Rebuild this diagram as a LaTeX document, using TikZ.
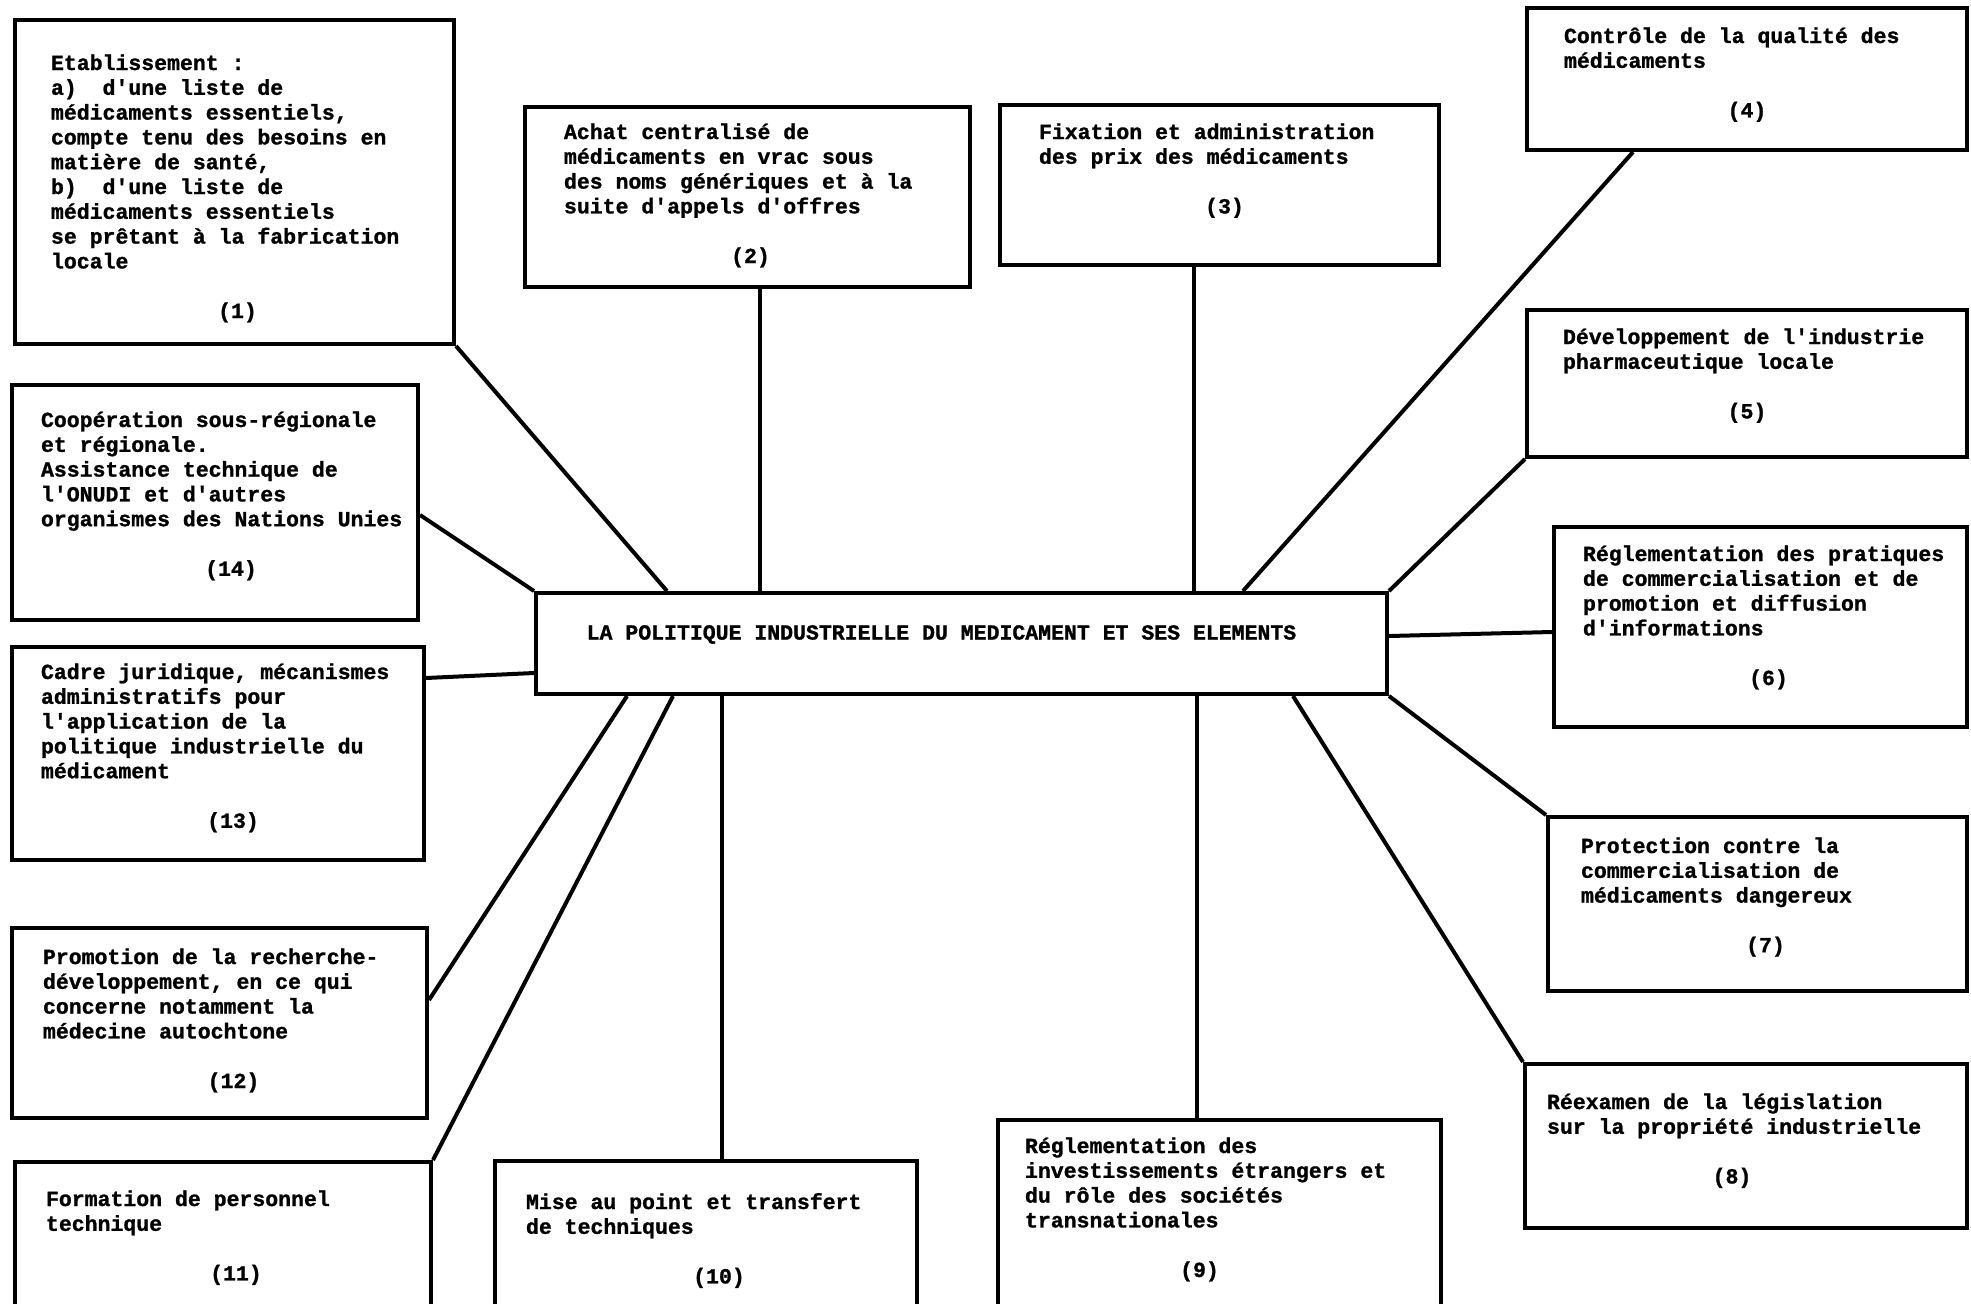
\documentclass[tikz,border=0pt]{standalone}
\usepackage{fontspec}
\setmonofont{Liberation Mono}[BoldFeatures={FakeBold=1.2}]
\newcommand{\elemfont}{\ttfamily\bfseries\fontsize{21.5}{24.8}\selectfont}
\tikzset{
  elem/.style={draw, line width=4pt, inner sep=0pt, anchor=north west, font=\elemfont},
  link/.style={line width=4pt},
}
% name, corner, width, height, left pad, first baseline, lines, number, number shift
\newcommand{\elem}[9]{%
  \node[elem] (#1) at (#2) {\parbox[c][#4][t]{#3}{%
    \vspace*{\dimexpr#6-\ht\strutbox\relax}%
    {\leftskip=#5\relax\strut#7\par}%
    \vspace{\baselineskip}%
    {\centering\strut\hspace*{#9}(#8)\hspace*{-#9}\par}}};}
\begin{document}
\begin{tikzpicture}[x=1pt,y=-1pt]
\path[use as bounding box, fill=white] (0,0) rectangle (1971,1304);
% centre
\node[elem, minimum width=851pt, minimum height=101pt] (pol) at (534,591) {\raisebox{9pt}[\height][\depth]{\hspace*{-20pt}LA POLITIQUE INDUSTRIELLE DU MEDICAMENT ET SES ELEMENTS\hspace*{20pt}}};
% elements
\elem{e1}{13,18}{439pt}{324pt}{36pt}{50pt}{Etablissement :\\a)\ \ d'une liste de\\médicaments essentiels,\\compte tenu des besoins en\\matière de santé,\\b)\ \ d'une liste de\\médicaments essentiels\\se prêtant à la fabrication\\locale}{1}{3pt}
\elem{e2}{523,105}{445pt}{180pt}{39pt}{32pt}{Achat centralisé de\\médicaments en vrac sous\\des noms génériques et à la\\suite d'appels d'offres}{2}{3pt}
\elem{e3}{998,103}{439pt}{160pt}{39pt}{34pt}{Fixation et administration\\des prix des médicaments}{3}{5pt}
\elem{e4}{1525,6}{440pt}{142pt}{37pt}{35pt}{Contrôle de la qualité des\\médicaments}{4}{0pt}
\elem{e5}{1525,308}{440pt}{147pt}{36pt}{34pt}{Développement de l'industrie\\pharmaceutique locale}{5}{0pt}
\elem{e6}{1552,525}{413pt}{200pt}{29pt}{34pt}{Réglementation des pratiques\\de commercialisation et de\\promotion et diffusion\\d'informations}{6}{8pt}
\elem{e7}{1546,815}{419pt}{174pt}{33pt}{36pt}{Protection contre la\\commercialisation de\\médicaments dangereux}{7}{8pt}
\elem{e8}{1523,1062}{442pt}{164pt}{22pt}{45pt}{Réexamen de la législation\\sur la propriété industrielle}{8}{-14pt}
\elem{e9}{996,1118}{443pt}{210pt}{27pt}{33pt}{Réglementation des\\investissements étrangers et\\du rôle des sociétés\\transnationales}{9}{-20pt}
\elem{e10}{493,1159}{422pt}{170pt}{31pt}{48pt}{Mise au point et transfert\\de techniques}{10}{13pt}
\elem{e11}{13,1160}{416pt}{170pt}{31pt}{44pt}{Formation de personnel\\technique}{11}{13pt}
\elem{e12}{10,926}{415pt}{190pt}{31pt}{36pt}{Promotion de la recherche-\\développement, en ce qui\\concerne notamment la\\médecine autochtone}{12}{14pt}
\elem{e13}{10,645}{412pt}{213pt}{29pt}{32pt}{Cadre juridique, mécanismes\\administratifs pour\\l'application de la\\politique industrielle du\\médicament}{13}{15pt}
\elem{e14}{10,383}{406pt}{235pt}{29pt}{42pt}{Coopération sous-régionale\\et régionale.\\Assistance technique de\\l'ONUDI et d'autres\\organismes des Nations Unies}{14}{16pt}
% links
\draw[link] (e1.south east) -- ([xshift=133pt]pol.north west);
\draw[link] ([xshift=237pt]e2.south west) -- ([xshift=226pt]pol.north west);
\draw[link] ([xshift=196pt]e3.south west) -- ([xshift=660pt]pol.north west);
\draw[link] ([xshift=108pt]e4.south west) -- ([xshift=709pt]pol.north west);
\draw[link] (e5.south west) -- (pol.north east);
\draw[link] ([yshift=-45pt]pol.north east) -- ([yshift=-107pt]e6.north west);
\draw[link] (pol.south east) -- (e7.north west);
\draw[link] ([xshift=759pt]pol.south west) -- (e8.north west);
\draw[link] ([xshift=663pt]pol.south west) -- ([xshift=201pt]e9.north west);
\draw[link] ([xshift=188pt]pol.south west) -- ([xshift=229pt]e10.north west);
\draw[link] ([xshift=139pt]pol.south west) -- (e11.north east);
\draw[link] ([xshift=93pt]pol.south west) -- ([yshift=-74pt]e12.north east);
\draw[link] ([yshift=-82pt]pol.north west) -- ([yshift=-33pt]e13.north east);
\draw[link] (pol.north west) -- ([yshift=-132pt]e14.north east);
\end{tikzpicture}
\end{document}
